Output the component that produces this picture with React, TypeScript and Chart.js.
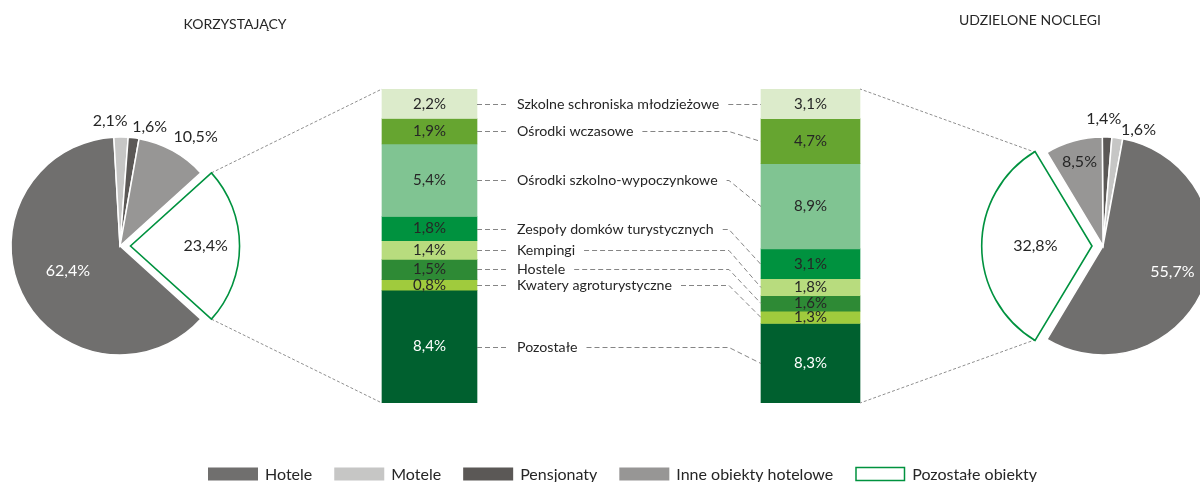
import React, { useEffect, useRef } from 'react';
import { Chart, registerables } from 'chart.js';

Chart.register(...registerables);

const FONT = 'Lato, "Open Sans", "DejaVu Sans", sans-serif';
const TEXT = '#262626';
const GREEN = '#00923f';

// ---- data ----
const panelTitles = ['KORZYSTAJĄCY', 'UDZIELONE NOCLEGI'];
const pieCategories = ['Hotele', 'Motele', 'Pensjonaty', 'Inne obiekty hotelowe', 'Pozostałe obiekty'];
const korzystajacyShares = [62.4, 2.1, 1.6, 10.5, 23.4];
const noclegiShares = [55.7, 1.6, 1.4, 8.5, 32.8];
const pieColors = ['#706f6e', '#c6c6c5', '#5b5856', '#979695', '#ffffff'];

const otherCategories = [
  'Szkolne schroniska młodzieżowe',
  'Ośrodki wczasowe',
  'Ośrodki szkolno-wypoczynkowe',
  'Zespoły domków turystycznych',
  'Kempingi',
  'Hostele',
  'Kwatery agroturystyczne',
  'Pozostałe',
];
const korzystajacyOther = [2.2, 1.9, 5.4, 1.8, 1.4, 1.5, 0.8, 8.4];
const noclegiOther = [3.1, 4.7, 8.9, 3.1, 1.8, 1.6, 1.3, 8.3];
const otherColors = ['#dcebcb', '#66a530', '#80c492', '#00923f', '#b8dc7e', '#2e8a35', '#a0cb3d', '#00602f'];

// ---- layout ----
const PIE_R = 109;
const PIE_BOX = 300;
const PIE_L = { cx: 120, cy: 246 };
const PIE_R_POS = { cx: 1103, cy: 246 };
const EXPLODED = 4; // index of "Pozostałe obiekty"
const LEFT_ORDER = [0, 1, 2, 3, 4];
const RIGHT_ORDER = [2, 1, 0, 4, 3];

type LabelCfg = { mode: 'in'; f: number; color?: string } | { mode: 'out'; dx: number; dy: number };
const leftLabels: LabelCfg[] = [
  { mode: 'in', f: 0.53, color: '#ffffff' },
  { mode: 'out', dx: -11, dy: 0 },
  { mode: 'out', dx: 14, dy: 5 },
  { mode: 'out', dx: 15, dy: 0 },
  { mode: 'in', f: 0.69 },
];
const rightLabels: LabelCfg[] = [
  { mode: 'in', f: 0.68, color: '#ffffff' },
  { mode: 'out', dx: 19, dy: 8 },
  { mode: 'out', dx: -4, dy: -2 },
  { mode: 'in', f: 0.8 },
  { mode: 'in', f: 0.52 },
];

const fmt = (v: number) => v.toFixed(1).replace('.', ',') + '%';
const sum = (a: number[]) => a.reduce((s, v) => s + v, 0);

function arcGeom(arc: any) {
  const p = arc.getProps(['x', 'y', 'startAngle', 'endAngle', 'outerRadius'], true);
  const mid = (p.startAngle + p.endAngle) / 2;
  const off = (arc.options.offset || 0) / 4;
  return {
    cx: p.x + Math.cos(mid) * off,
    cy: p.y + Math.sin(mid) * off,
    start: p.startAngle,
    end: p.endAngle,
    mid,
    r: p.outerRadius,
  };
}

function pieLabelPlugin(order: number[], labels: LabelCfg[]) {
  return {
    id: 'pieLabels',
    afterDatasetsDraw(chart: any) {
      const ctx = chart.ctx;
      const meta = chart.getDatasetMeta(0);
      ctx.save();
      ctx.font = `16px ${FONT}`;
      ctx.textAlign = 'center';
      ctx.textBaseline = 'middle';
      meta.data.forEach((arc: any, k: number) => {
        const cat = order[k];
        const g = arcGeom(arc);
        const cfg = labels[cat];
        const value = chart.data.datasets[0].data[k];
        let x: number, y: number;
        if (cfg.mode === 'in') {
          x = g.cx + Math.cos(g.mid) * g.r * cfg.f;
          y = g.cy + Math.sin(g.mid) * g.r * cfg.f;
          ctx.fillStyle = cfg.color || TEXT;
        } else {
          x = g.cx + Math.cos(g.mid) * (g.r + 16) + cfg.dx;
          y = g.cy + Math.sin(g.mid) * (g.r + 16) + cfg.dy;
          ctx.fillStyle = TEXT;
        }
        ctx.fillText(fmt(value), x, y);
      });
      ctx.restore();
    },
  };
}

function makePie(canvas: HTMLCanvasElement, shares: number[], order: number[], targetDeg: number, offsetPx: number, labels: LabelCfg[]) {
  const data = order.map((i) => shares[i]);
  const total = sum(data);
  const ek = order.indexOf(EXPLODED);
  const before = sum(data.slice(0, ek));
  const rotation = targetDeg - ((before + data[ek] / 2) / total) * 360;
  return new Chart(canvas, {
    type: 'pie',
    data: {
      labels: order.map((i) => pieCategories[i]),
      datasets: [
        {
          data,
          backgroundColor: order.map((i) => pieColors[i]),
          borderColor: order.map((i) => (i === EXPLODED ? GREEN : '#ffffff')),
          borderWidth: order.map((i) => (i === EXPLODED ? 1.6 : 1.5)),
          borderJoinStyle: 'miter',
          offset: order.map((i) => (i === EXPLODED ? offsetPx * 4 : 0)),
          radius: PIE_R,
        } as any,
      ],
    },
    options: {
      responsive: false,
      animation: false,
      events: [],
      rotation,
      layout: { padding: 0 },
      plugins: { legend: { display: false }, tooltip: { enabled: false }, title: { display: false } },
    } as any,
    plugins: [pieLabelPlugin(order, labels)],
  });
}

function barPlugin(pieL: any, pieR: any) {
  return {
    id: 'decor',
    afterDatasetsDraw(chart: any) {
      const ctx = chart.ctx;
      const n = otherCategories.length;
      ctx.save();

      // values inside segments
      ctx.font = `15px ${FONT}`;
      ctx.textAlign = 'center';
      ctx.textBaseline = 'middle';
      for (let d = 0; d < 2 * n; d++) {
        const cat = d % n;
        const idx = d < n ? 0 : 1;
        const el: any = chart.getDatasetMeta(d).data[idx];
        const v = chart.data.datasets[d].data[idx];
        ctx.fillStyle = cat === n - 1 ? '#ffffff' : TEXT;
        ctx.fillText(fmt(v), el.x, (el.y + el.base) / 2);
      }

      // category labels + connectors
      ctx.font = `14.2px ${FONT}`;
      ctx.textAlign = 'left';
      ctx.strokeStyle = '#858585';
      ctx.lineWidth = 1;
      for (let i = 0; i < n; i++) {
        const l: any = chart.getDatasetMeta(i).data[0];
        const r: any = chart.getDatasetMeta(n + i).data[1];
        const ly = Math.round((l.y + l.base) / 2) + 0.5;
        const ry = Math.round((r.y + r.base) / 2) + 0.5;
        const lRight = l.x + l.width / 2;
        const rLeft = r.x - r.width / 2;
        const tx = lRight + 40;
        ctx.fillStyle = TEXT;
        ctx.fillText(otherCategories[i], tx, ly);
        const tw = ctx.measureText(otherCategories[i]).width;
        ctx.setLineDash([5, 3]);
        ctx.beginPath();
        ctx.moveTo(lRight, ly);
        ctx.lineTo(lRight + 31, ly);
        const s = tx + tw + 9;
        const elbow = Math.max(rLeft - 32, s);
        ctx.moveTo(s, ly);
        ctx.lineTo(elbow, ly);
        ctx.lineTo(rLeft, ry);
        ctx.stroke();
      }

      // pie to bar connectors
      ctx.setLineDash([3, 2]);
      ctx.strokeStyle = '#8f8f8f';
      const link = (pie: any, pos: { cx: number; cy: number }, order: number[], barMeta: any, side: 'left' | 'right') => {
        const arc = pie.getDatasetMeta(0).data[order.indexOf(EXPLODED)];
        const g = arcGeom(arc);
        const ox = pos.cx - PIE_BOX / 2;
        const oy = pos.cy - PIE_BOX / 2;
        const pts = [g.start, g.end].map((a) => ({ x: ox + g.cx + Math.cos(a) * g.r, y: oy + g.cy + Math.sin(a) * g.r }));
        pts.sort((a, b) => a.y - b.y);
        const top: any = barMeta[0];
        const bottom: any = barMeta[barMeta.length - 1];
        const bx = side === 'left' ? top.x - top.width / 2 : top.x + top.width / 2;
        ctx.beginPath();
        ctx.moveTo(pts[0].x, pts[0].y);
        ctx.lineTo(bx, Math.min(top.y, top.base));
        ctx.moveTo(pts[1].x, pts[1].y);
        ctx.lineTo(bx, Math.max(bottom.y, bottom.base));
        ctx.stroke();
      };
      const leftEls = Array.from({ length: n }, (_, i) => chart.getDatasetMeta(i).data[0]);
      const rightEls = Array.from({ length: n }, (_, i) => chart.getDatasetMeta(n + i).data[1]);
      link(pieL, PIE_L, LEFT_ORDER, leftEls, 'left');
      link(pieR, PIE_R_POS, RIGHT_ORDER, rightEls, 'right');
      ctx.setLineDash([]);

      // titles
      ctx.font = `14px ${FONT}`;
      ctx.textAlign = 'center';
      ctx.fillStyle = TEXT;
      ctx.fillText(panelTitles[0], 235, 24.5);
      ctx.fillText(panelTitles[1], 1030, 20.5);

      // legend
      ctx.font = `16px ${FONT}`;
      ctx.textAlign = 'left';
      let x = 208;
      const ly = 474;
      pieCategories.forEach((c, i) => {
        if (i === EXPLODED) {
          ctx.fillStyle = '#ffffff';
          ctx.fillRect(x, ly - 6.5, 50, 13);
          ctx.strokeStyle = GREEN;
          ctx.lineWidth = 1.5;
          ctx.strokeRect(x + 0.75, ly - 6.5, 48.5, 13);
        } else {
          ctx.fillStyle = pieColors[i];
          ctx.fillRect(x, ly - 6.5, 50, 13);
        }
        x += 57;
        ctx.fillStyle = TEXT;
        ctx.fillText(c, x, ly + 1);
        x += ctx.measureText(c).width + 22;
      });

      ctx.restore();
    },
  };
}

export default function App() {
  const barRef = useRef<HTMLCanvasElement>(null);
  const pieLRef = useRef<HTMLCanvasElement>(null);
  const pieRRef = useRef<HTMLCanvasElement>(null);

  useEffect(() => {
    document.body.style.margin = '0';
    const pieL = makePie(pieLRef.current!, korzystajacyShares, LEFT_ORDER, 90, 10.5, leftLabels);
    const pieR = makePie(pieRRef.current!, noclegiShares, RIGHT_ORDER, 270, 11, rightLabels);
    const datasets: any[] = [
      ...otherCategories.map((c, i) => ({
        label: c,
        data: [korzystajacyOther[i], null],
        backgroundColor: otherColors[i],
        yAxisID: 'yL',
        barThickness: 95,
        borderWidth: 0,
      })),
      ...otherCategories.map((c, i) => ({
        label: c,
        data: [null, noclegiOther[i]],
        backgroundColor: otherColors[i],
        yAxisID: 'yR',
        barThickness: 99,
        borderWidth: 0,
      })),
    ];
    const bar = new Chart(barRef.current!, {
      type: 'bar',
      data: { labels: panelTitles, datasets },
      options: {
        responsive: false,
        animation: false,
        events: [],
        layout: { padding: { left: 239, right: 199, top: 89, bottom: 79 } },
        scales: {
          x: { display: false, stacked: true },
          yL: { display: false, stacked: true, reverse: true, min: 0, max: sum(korzystajacyOther) },
          yR: { display: false, stacked: true, reverse: true, min: 0, max: sum(noclegiOther) },
        },
        plugins: { legend: { display: false }, tooltip: { enabled: false }, title: { display: false } },
      } as any,
      plugins: [barPlugin(pieL, pieR)],
    });
    return () => {
      bar.destroy();
      pieL.destroy();
      pieR.destroy();
    };
  }, []);

  const pieStyle = (p: { cx: number; cy: number }): React.CSSProperties => ({
    position: 'absolute',
    left: p.cx - PIE_BOX / 2,
    top: p.cy - PIE_BOX / 2,
    width: PIE_BOX,
    height: PIE_BOX,
  });

  return (
    <div style={{ position: 'relative', width: 1200, height: 482, overflow: 'hidden', background: '#ffffff' }}>
      <canvas ref={barRef} width={1200} height={482} style={{ position: 'absolute', left: 0, top: 0 }} />
      <canvas ref={pieLRef} width={PIE_BOX} height={PIE_BOX} style={pieStyle(PIE_L)} />
      <canvas ref={pieRRef} width={PIE_BOX} height={PIE_BOX} style={pieStyle(PIE_R_POS)} />
    </div>
  );
}
